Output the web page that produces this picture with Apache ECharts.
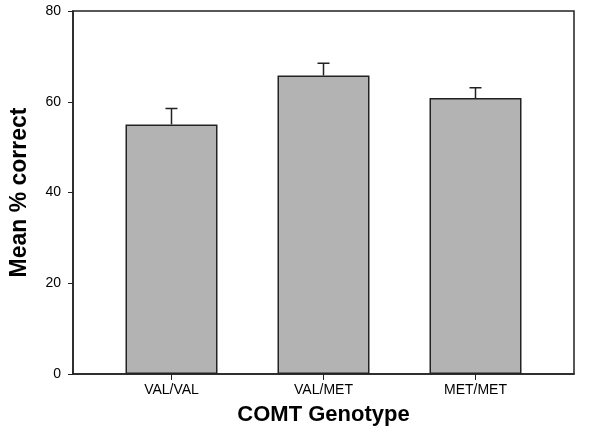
<!DOCTYPE html>
<html>
<head>
<meta charset="utf-8">
<script src="https://cdn.jsdelivr.net/npm/echarts@6/dist/echarts.min.js"></script>
<style>
html,body{margin:0;padding:0;background:#fff;}
#c{width:600px;height:435px;}
</style>
</head>
<body>
<div id="c"></div>
<script>
var categories = ['VAL/VAL', 'VAL/MET', 'MET/MET'];
var means = [55.0, 65.8, 60.8];
var errors = [3.5, 2.7, 2.3];
var yTicks = [0, 20, 40, 60, 80];

var positions = categories.map(function (c, i) { return i; });
var barData = means.map(function (m, i) { return [i, m]; });
var errData = means.map(function (m, i) { return [i, m, m + errors[i]]; });

var chart = echarts.init(document.getElementById('c'), null, {renderer: 'canvas'});
var font = 'Liberation Sans, Arial, sans-serif';
chart.setOption({
  animation: false,
  backgroundColor: '#fff',
  grid: {left: 71, right: 26, top: 11, bottom: 61, show: true, borderColor: '#222', borderWidth: 1.5, backgroundColor: 'transparent'},
  xAxis: {
    type: 'value', min: -0.648, max: 2.648,
    name: 'COMT Genotype', nameLocation: 'middle', nameGap: 30,
    nameTextStyle: {fontFamily: font, fontWeight: 'bold', fontSize: 22, color: '#000'},
    axisLine: {show: true, onZero: false, lineStyle: {color: '#222', width: 1.5}},
    axisTick: {show: true, customValues: positions, length: 6, inside: false, lineStyle: {color: '#222', width: 1}},
    axisLabel: {show: true, customValues: positions, margin: 9, fontFamily: font, fontSize: 14, color: '#000',
      formatter: function (v) { return categories[Math.round(v)]; }},
    splitLine: {show: false}
  },
  yAxis: {
    type: 'value', min: yTicks[0], max: yTicks[yTicks.length - 1], interval: 20,
    name: 'Mean % correct', nameLocation: 'middle', nameGap: 42,
    nameTextStyle: {fontFamily: font, fontWeight: 'bold', fontSize: 23, color: '#000'},
    axisLine: {show: true, onZero: false, lineStyle: {color: '#222', width: 1.5}},
    axisTick: {show: true, length: 5, inside: false, lineStyle: {color: '#222', width: 1}},
    axisLabel: {margin: 12, fontFamily: font, fontSize: 14, color: '#000'},
    splitLine: {show: false}
  },
  series: [
    {
      type: 'bar', data: barData, barWidth: 92,
      itemStyle: {color: '#b3b3b3', borderColor: '#222', borderWidth: 1.5},
      z: 2
    },
    {
      type: 'custom', data: errData, z: 3,
      encode: {x: 0, y: [1, 2]},
      renderItem: function (params, api) {
        var x = api.value(0);
        var base = api.coord([x, api.value(1)]);
        var top = api.coord([x, api.value(2)]);
        var half = 6;
        var d = 'M' + base[0] + ' ' + base[1] + 'L' + top[0] + ' ' + top[1] +
                'M' + (top[0] - half) + ' ' + top[1] + 'L' + (top[0] + half) + ' ' + top[1];
        return {
          type: 'path',
          shape: {pathData: d},
          style: {stroke: '#222', lineWidth: 1.5, fill: null}
        };
      }
    }
  ]
});
</script>
</body>
</html>
